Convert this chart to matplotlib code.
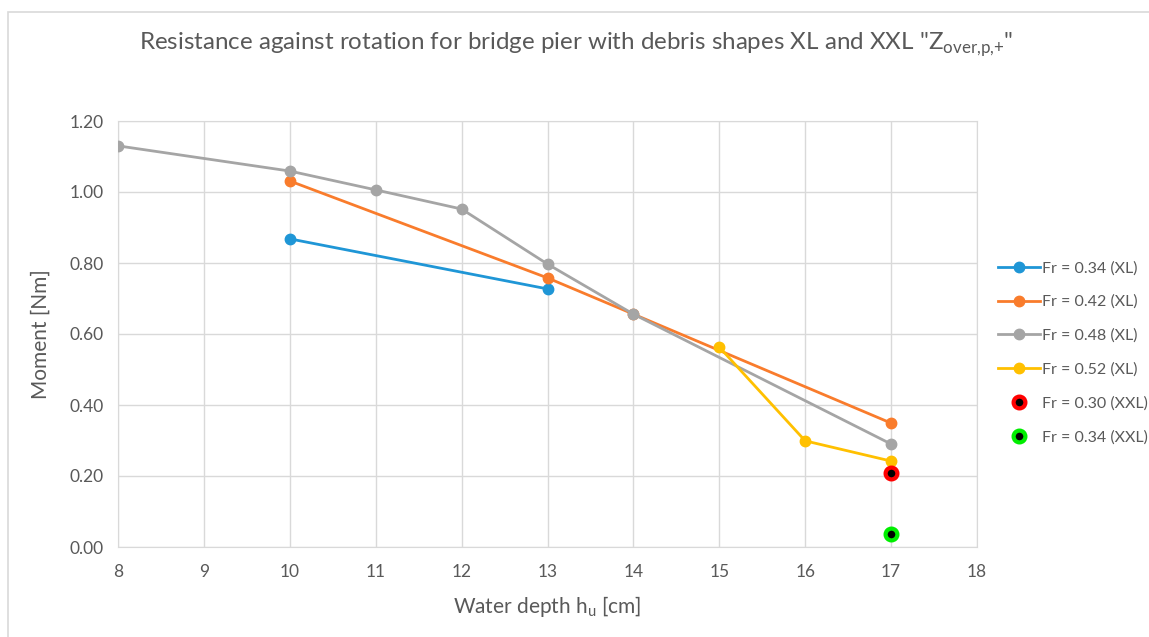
import matplotlib
matplotlib.use("Agg")
import matplotlib.pyplot as plt
from matplotlib.patches import Rectangle

plt.rcParams['font.family'] = ['Lato', 'DejaVu Sans']
plt.rcParams['mathtext.fontset'] = 'custom'
plt.rcParams['mathtext.rm'] = 'Lato'

# Data
x_034 = [10, 13]
y_034 = [0.868, 0.727]
x_042 = [10, 13, 14, 17]
y_042 = [1.031, 0.758, 0.656, 0.349]
x_048 = [8, 10, 11, 12, 13, 14, 17]
y_048 = [1.130, 1.059, 1.006, 0.952, 0.797, 0.656, 0.290]
x_052 = [15, 16, 17]
y_052 = [0.563, 0.299, 0.242]
x_030xxl = [17]
y_030xxl = [0.208]
x_034xxl = [17]
y_034xxl = [0.037]

labels = ["Fr = 0.34 (XL)", "Fr = 0.42 (XL)", "Fr = 0.48 (XL)", "Fr = 0.52 (XL)",
          "Fr = 0.30 (XXL)", "Fr = 0.34 (XXL)"]
xticks = list(range(8, 19))
yticks = [0.0, 0.2, 0.4, 0.6, 0.8, 1.0, 1.2]

W, H = 1149, 637
fig = plt.figure(figsize=(W / 100, H / 100), dpi=100)
ax = fig.add_axes([118 / W, 1 - 547 / H, (977 - 118) / W, (547 - 121) / H])

txt = '#595959'
grid = '#d9d9d9'

ax.plot(x_034, y_034, color='#1f96d6', lw=2, marker='o', ms=7.5, label=labels[0], zorder=3)
ax.plot(x_042, y_042, color='#f97c2c', lw=2, marker='o', ms=7.5, label=labels[1], zorder=3)
ax.plot(x_048, y_048, color='#a5a5a5', lw=2, marker='o', ms=7.5, label=labels[2], zorder=3)
ax.plot(x_052, y_052, color='#ffc000', lw=2, marker='o', ms=7.5, label=labels[3], zorder=3)
ax.plot(x_030xxl, y_030xxl, ls='none', marker='o', ms=8.5, mfc='black', mec='#ff0000', mew=3,
        label=labels[4], zorder=4)
ax.plot(x_034xxl, y_034xxl, ls='none', marker='o', ms=8.5, mfc='black', mec='#00ee00', mew=3,
        label=labels[5], zorder=4)

ax.set_xlim(8, 18)
ax.set_ylim(0, 1.2)
ax.set_xticks(xticks)
ax.set_yticks(yticks)
ax.set_yticklabels([f"{v:.2f}" for v in yticks])
ax.grid(True, color=grid, lw=1)
ax.set_axisbelow(True)
for s in ax.spines.values():
    s.set_color(grid)
ax.tick_params(length=0, colors=txt, labelsize=12.5, pad=10)
ax.tick_params(axis='x', pad=12)

ax.set_xlabel(r"Water depth h$_\mathregular{u}$ [cm]", color=txt, fontsize=15, labelpad=10)
ax.set_ylabel("Moment [Nm]", color=txt, fontsize=15, labelpad=14)

fig.text(0.501, 1 - 45 / H,
         r'Resistance against rotation for bridge pier with debris shapes XL and XXL "Z$_\mathregular{over{,}p{,}{+}}$"',
         ha='center', va='center', color=txt, fontsize=17.4)

leg = ax.legend(loc='upper left', bbox_to_anchor=(998 / W, 1 - 261 / H), bbox_transform=fig.transFigure,
                frameon=False, fontsize=11.5, labelcolor=txt, handlelength=2.6, handletextpad=0.15,
                labelspacing=1.22, borderaxespad=0, borderpad=0)

# outer frame
fig.patches.append(Rectangle((8 / W, -0.1), 1.2, 1 - 12 / H + 0.1, transform=fig.transFigure,
                             fill=False, edgecolor='#d9d9d9', lw=1.2))

fig.savefig("out.png", dpi=100)
